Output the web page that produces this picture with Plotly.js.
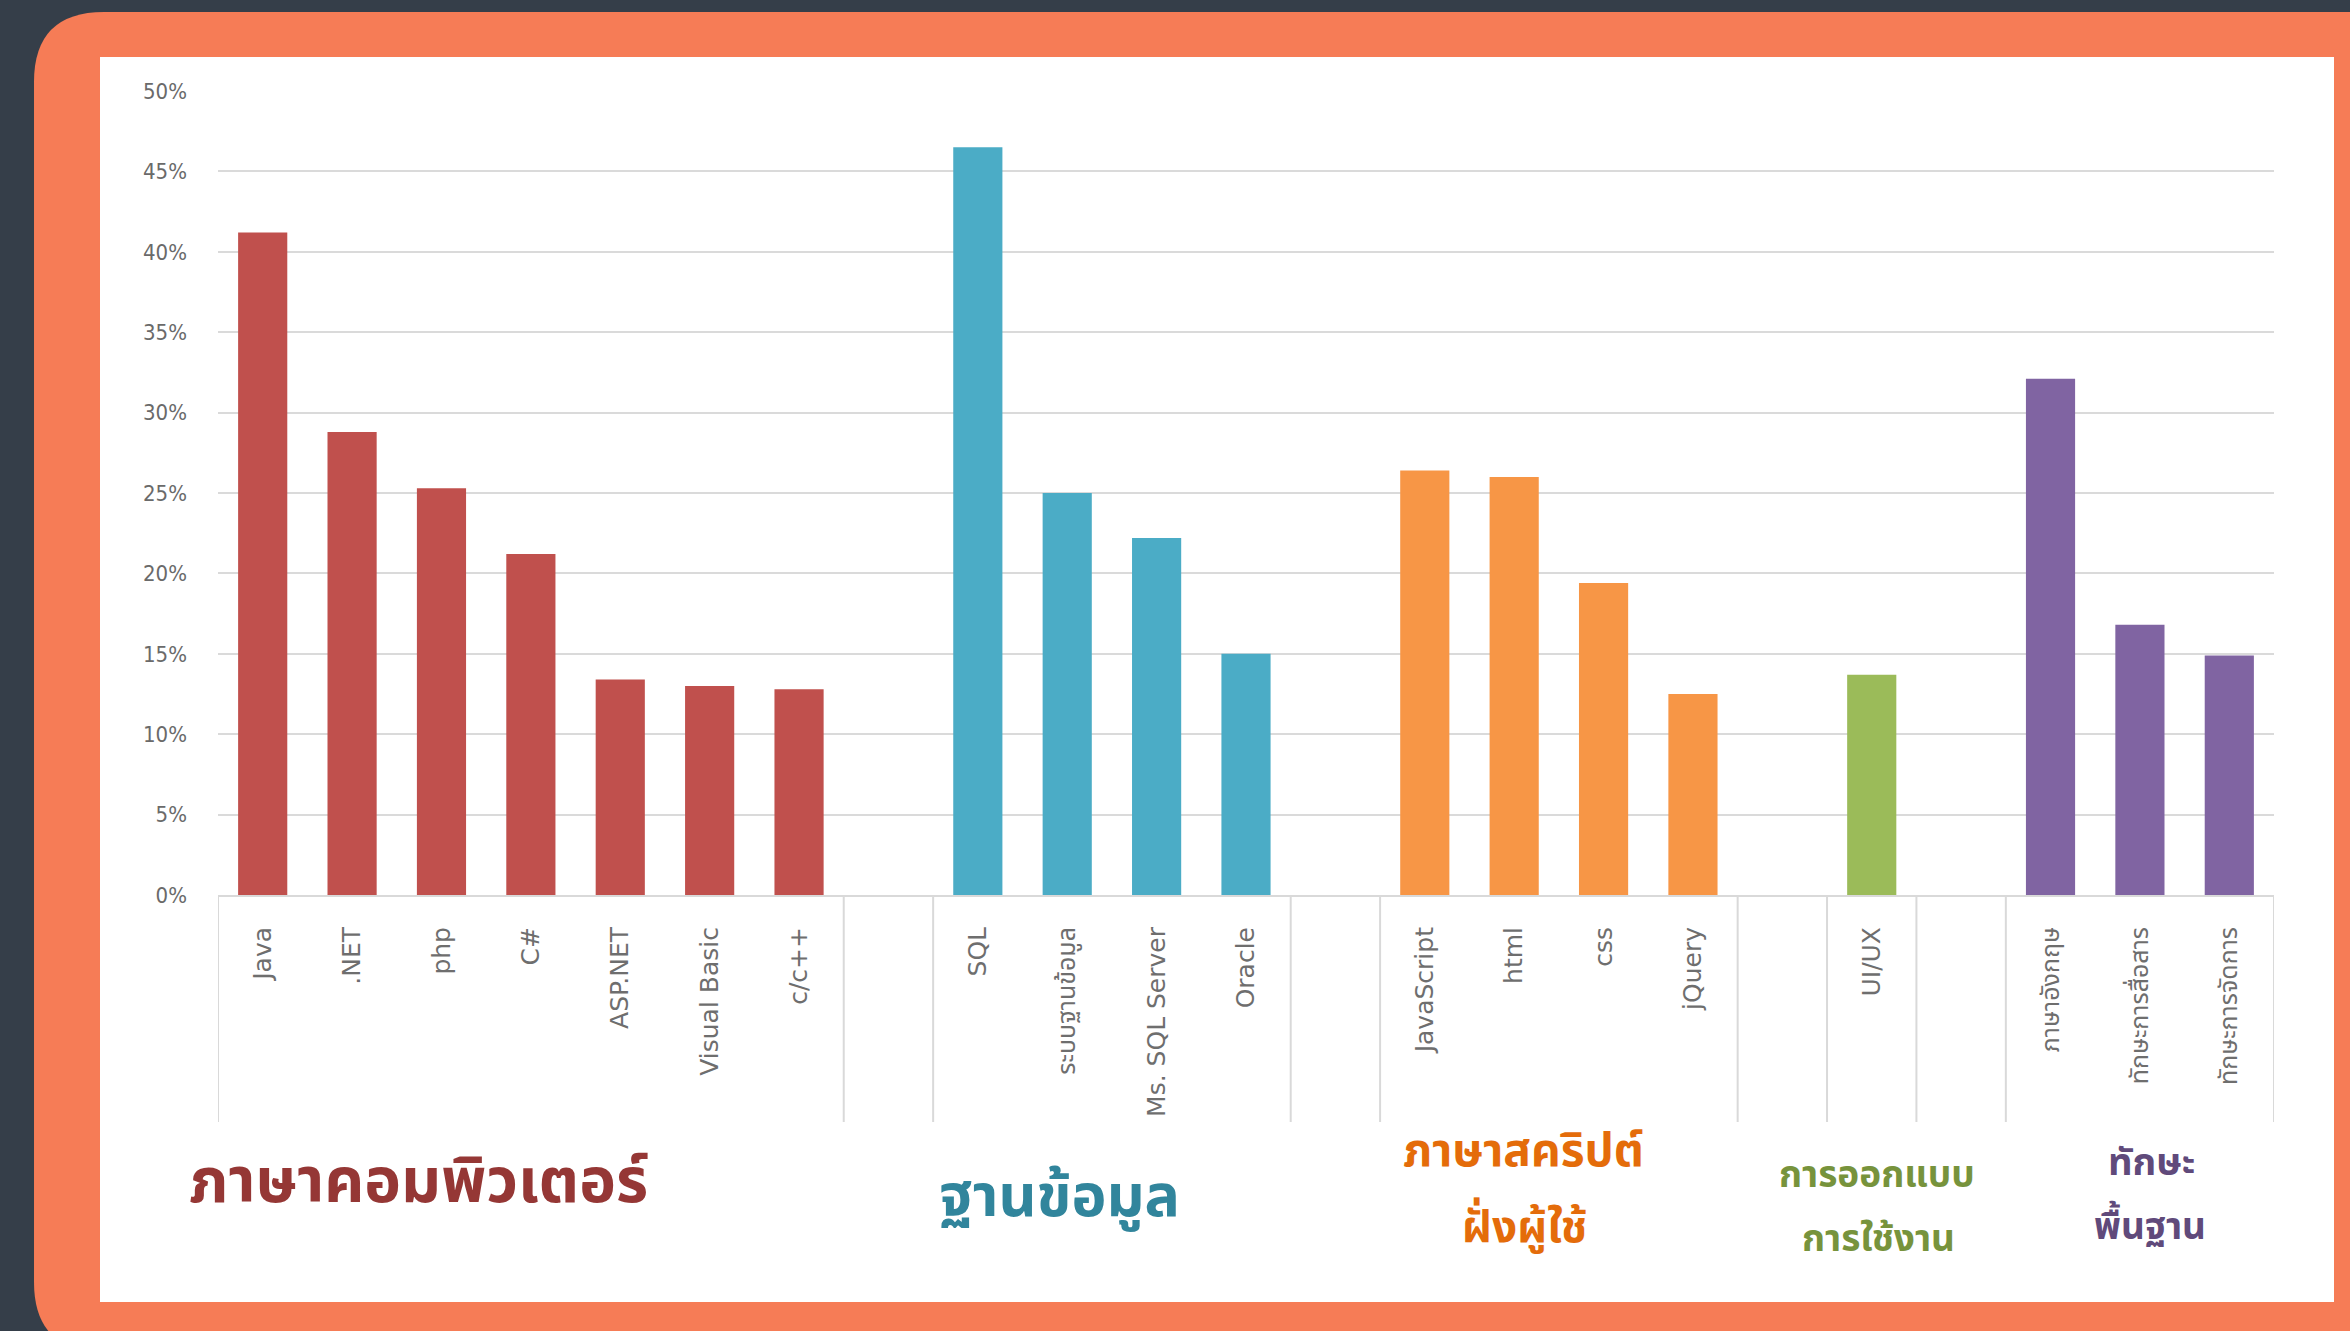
<!DOCTYPE html>
<html><head><meta charset="utf-8">
<script src="https://cdn.plot.ly/plotly-3.0.1.min.js"></script>
<style>html,body{margin:0;padding:0;background:#353e49;overflow:hidden}#chart{width:2350px;height:1331px}</style>
</head><body><div id="chart"></div><script>
// ---- data ----
const langLabels = ['Java', '.NET', 'php', 'C#', 'ASP.NET', 'Visual Basic', 'c/c++'];
const langValues = [0.412, 0.288, 0.253, 0.212, 0.134, 0.130, 0.128];
const dbLabels = ['SQL', 'ระบบฐานข้อมูล', 'Ms. SQL Server', 'Oracle'];
const dbValues = [0.465, 0.250, 0.222, 0.150];
const scriptLabels = ['JavaScript', 'html', 'css', 'jQuery'];
const scriptValues = [0.264, 0.260, 0.194, 0.125];
const uxLabels = ['UI/UX'];
const uxValues = [0.137];
const skillLabels = ['ภาษาอังกฤษ', 'ทักษะการสื่อสาร', 'ทักษะการจัดการ'];
const skillValues = [0.321, 0.168, 0.149];
const groupTitles = [['ภาษาคอมพิวเตอร์'], ['ฐานข้อมูล'], ['ภาษาสคริปต์', 'ฝั่งผู้ใช้'], ['การออกแบบ', 'การใช้งาน'], ['ทักษะ', 'พื้นฐาน']];
const yTickVals = [0, 0.05, 0.10, 0.15, 0.20, 0.25, 0.30, 0.35, 0.40, 0.45, 0.50];

// ---- styles ----
const barColors = ['#c0504d', '#4bacc6', '#f79646', '#9bbb59', '#8064a2'];
const titleColors = ['#953735', '#31859c', '#e46c0a', '#77933c', '#604a7b'];
const W = 2350, H = 1331;
const L = 218, R = 2274, T = 91, B = 895;
const xp = x => (x - L) / (R - L);
const yp = y => (B - y) / (B - T);

const groups = [
  {labels: langLabels, values: langValues},
  {labels: dbLabels, values: dbValues},
  {labels: scriptLabels, values: scriptValues},
  {labels: uxLabels, values: uxValues},
  {labels: skillLabels, values: skillValues}
];

const traces = [];
const tickvals = [], ticktext = [];
const bounds = new Set();
let pos = 0;
groups.forEach((g, gi) => {
  if (gi > 0) { bounds.add(pos - 0.5); pos += 1; }
  const xs = g.labels.map((_, i) => pos + i);
  bounds.add(pos - 0.5);
  xs.forEach((x, i) => { tickvals.push(x); ticktext.push(g.labels[i]); });
  traces.push({
    type: 'bar', x: xs, y: g.values, width: 0.55,
    marker: {color: barColors[gi], line: {width: 0}},
    hoverinfo: 'x+y', showlegend: false
  });
  pos += g.labels.length;
  bounds.add(pos - 0.5);
});
const nSlots = pos;

const shapes = [];
// frame
const r = 70, fl = 34, ft = 12, fb = 1352, fr = 2420;
const P = (x, y) => xp(x).toFixed(5) + ',' + yp(y).toFixed(5);
shapes.push({
  type: 'path', xref: 'paper', yref: 'paper', layer: 'below',
  path: 'M' + P(fl, ft + r) + ' Q' + P(fl, ft) + ' ' + P(fl + r, ft) + ' L' + P(fr, ft) + ' L' + P(fr, fb) +
        ' L' + P(fl + r, fb) + ' Q' + P(fl, fb) + ' ' + P(fl, fb - r) + ' Z',
  fillcolor: '#f67c56', line: {width: 0}
});
shapes.push({type: 'rect', xref: 'paper', yref: 'paper', layer: 'below',
  x0: xp(100), x1: xp(2334), y0: yp(57), y1: yp(1302), fillcolor: '#ffffff', line: {width: 0}});
// category dividers
[...bounds].forEach(b => {
  shapes.push({type: 'line', xref: 'x', yref: 'paper', x0: b, x1: b, y0: 0, y1: yp(1122),
    line: {color: '#d9d9d9', width: 2}});
});

const annotations = [];
const titlePos = [
  [[418, 1183, 62]],
  [[1059, 1198, 59]],
  [[1523, 1152, 46], [1524, 1228, 44]],
  [[1877, 1176, 37], [1878, 1240, 37]],
  [[2151, 1163, 38], [2150, 1228, 37]]
];
groupTitles.forEach((lines, gi) => {
  lines.forEach((t, li) => {
    const p = titlePos[gi][li];
    annotations.push({xref: 'paper', yref: 'paper', x: xp(p[0]), y: yp(p[1]), xanchor: 'center', yanchor: 'middle',
      text: '<b>' + t + '</b>', showarrow: false,
      font: {family: '"Noto Sans Thai", "Noto Sans", sans-serif', size: p[2], color: titleColors[gi]}});
  });
});

const layout = {
  width: W, height: H,
  margin: {l: L, r: W - R, t: T, b: H - B, pad: 0},
  paper_bgcolor: '#353e49', plot_bgcolor: 'rgba(0,0,0,0)',
  barmode: 'overlay',
  xaxis: {
    range: [-0.5, nSlots - 0.5], tickmode: 'array', tickvals: tickvals, ticktext: ticktext,
    tickangle: -90, ticks: '', showgrid: false, zeroline: false,
    showline: true, linecolor: '#d9d9d9', linewidth: 2, ticklabelstandoff: 20,
    tickfont: {family: '"DejaVu Sans", "Noto Sans Thai", sans-serif', size: 25, color: '#6e6e6e'}
  },
  yaxis: {
    range: [0, 0.5], tickmode: 'array', tickvals: yTickVals, tickformat: '.0%',
    showgrid: true, gridcolor: '#dadada', gridwidth: 2, zeroline: false, showline: false, ticks: '',
    ticklabelstandoff: 30,
    tickfont: {family: '"DejaVu Sans Condensed", "Liberation Sans Narrow", "DejaVu Sans", sans-serif', size: 22, color: '#6a6a6a'}
  },
  shapes: shapes, annotations: annotations, showlegend: false
};
Plotly.newPlot('chart', traces, layout, {displayModeBar: false, staticPlot: true});
</script></body></html>
